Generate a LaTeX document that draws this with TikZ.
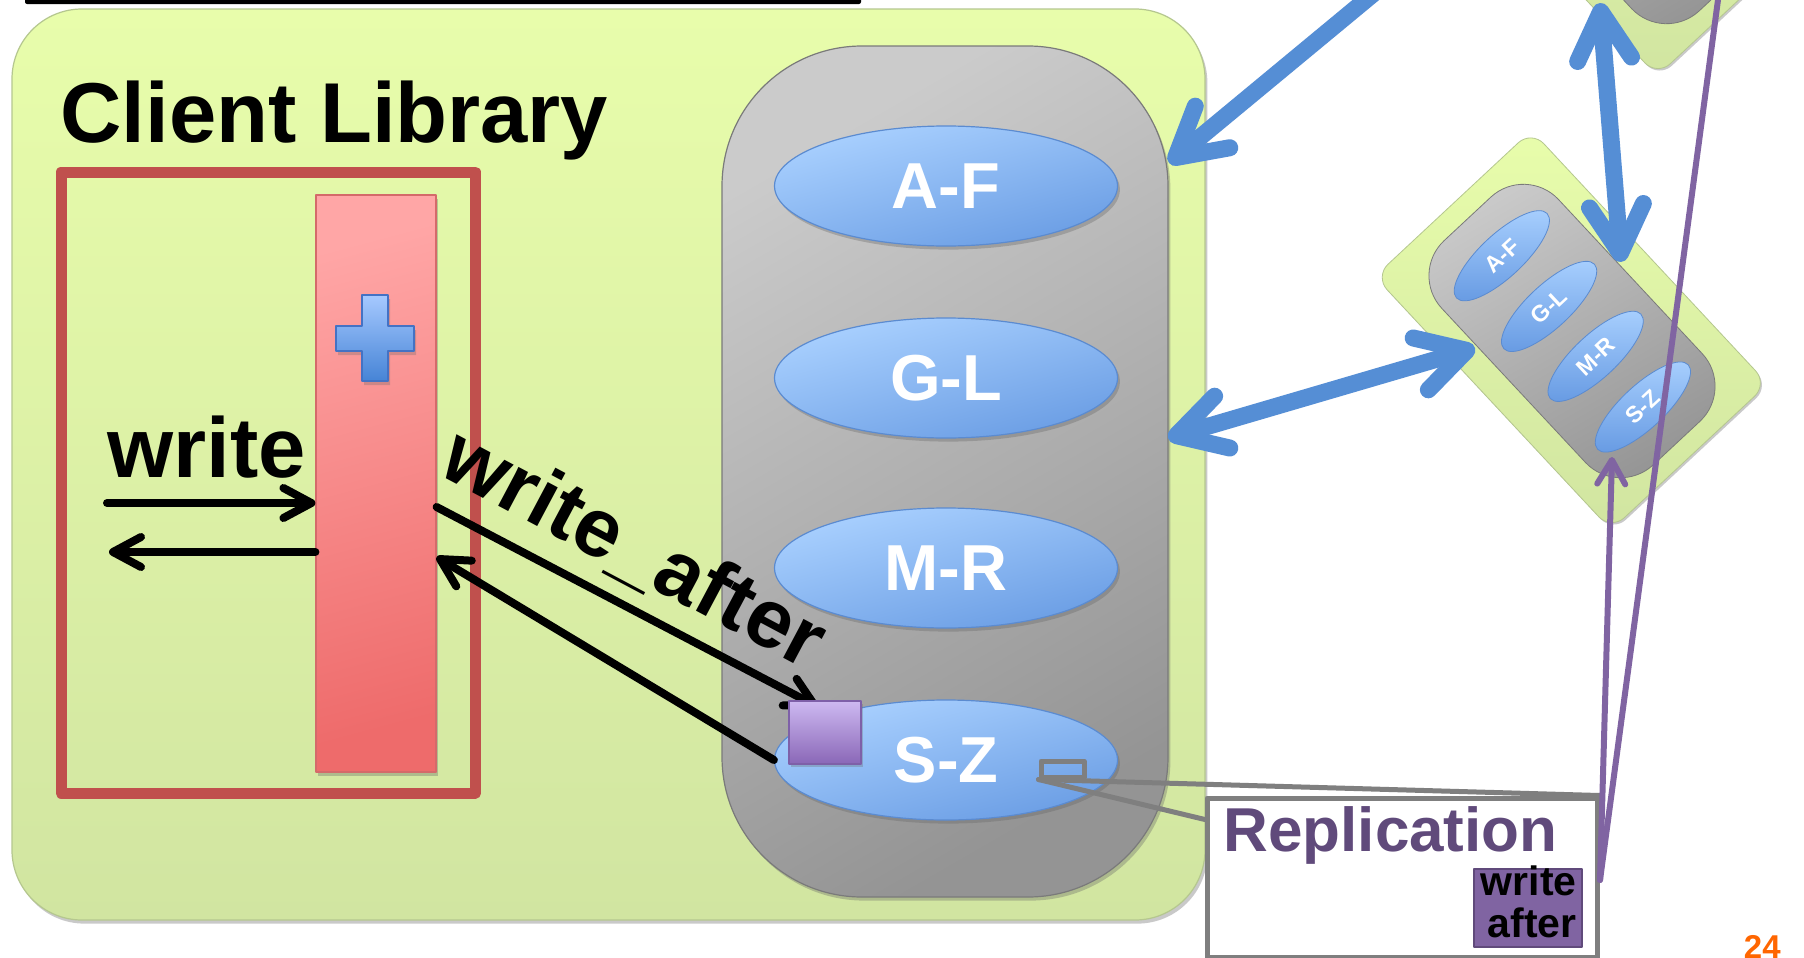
\documentclass[tikz,border=0pt]{standalone}
\usepackage{fontspec}
\setmainfont{Liberation Sans}
\usetikzlibrary{arrows.meta,shapes.geometric,shadows}
\definecolor{greentop}{HTML}{E8FDAB}
\definecolor{greenbot}{HTML}{D1E5A1}
\definecolor{greenedge}{HTML}{B5C78F}
\definecolor{pilltop}{HTML}{CBCBCB}
\definecolor{pillbot}{HTML}{949494}
\definecolor{pilledge}{HTML}{7A7A7A}
\definecolor{elltop}{HTML}{AAD1FF}
\definecolor{ellbot}{HTML}{6A9DE4}
\definecolor{elledge}{HTML}{5B8BD0}
\definecolor{pinktop}{HTML}{FFA6A6}
\definecolor{pinkbot}{HTML}{EE6B6B}
\definecolor{pinkedge}{HTML}{D46A6A}
\definecolor{redframe}{HTML}{C0504D}
\definecolor{plustop}{HTML}{A6C9FF}
\definecolor{plusbot}{HTML}{4684D6}
\definecolor{plusedge}{HTML}{4472C4}
\definecolor{sqtop}{HTML}{CDB9F1}
\definecolor{sqbot}{HTML}{8A67B7}
\definecolor{sqedge}{HTML}{7E60A8}
\definecolor{bluearr}{HTML}{558ED5}
\definecolor{purpline}{HTML}{8064A2}
\definecolor{reptext}{HTML}{604A7B}
\definecolor{calgray}{HTML}{7F7F7F}
\definecolor{pagenum}{HTML}{FF6600}
\newcommand{\replicabody}{%
  \draw[smgreen] (-102,-166) rectangle (102,164);
  \draw[smpill] (-76,-146) rectangle (76,146);
}
\newcommand{\replicanode}[1]{%
  \replicabody
  \node[ellsmall] (#1af) at (0,-98) {A-F};
  \node[ellsmall] (#1gl) at (0,-32) {G-L};
  \node[ellsmall] (#1mr) at (0,33) {M-R};
  \node[ellsmall] (#1sz) at (0,99) {S-Z};
}
\begin{document}
\begin{tikzpicture}[x=0.5pt,y=-0.5pt,line cap=round,line join=round,
  softshadow/.style={drop shadow={shadow xshift=1.2pt,shadow yshift=-1.8pt,opacity=0.35,fill=black!60}},
  greenbox/.style={draw=greenedge,line width=0.6pt,top color=greentop,bottom color=greenbot,
    rounded corners=35pt,inner sep=0pt,softshadow},
  pillbox/.style={draw=pilledge,line width=0.6pt,top color=pilltop,bottom color=pillbot,shading angle=30,
    rounded corners=70pt,inner sep=0pt,softshadow},
  ellbig/.style={ellipse,draw=elledge,line width=0.6pt,top color=elltop,bottom color=ellbot,shading angle=15,
    minimum width=171.5pt,minimum height=60pt,inner sep=0pt,text=white,
    font=\bfseries\fontsize{32.5}{32.5}\selectfont,softshadow},
  smgreen/.style={draw=greenedge,line width=0.4pt,top color=greentop,bottom color=greenbot,rounded corners=9pt,
    drop shadow={shadow xshift=0.8pt,shadow yshift=-1pt,opacity=0.35,fill=black!60}},
  smpill/.style={draw=pilledge,line width=0.4pt,top color=pilltop,bottom color=pillbot,shading angle=30,rounded corners=24pt},
  ellsmall/.style={ellipse,draw=elledge,line width=0.4pt,top color=elltop,bottom color=ellbot,
    minimum width=59pt,minimum height=20.5pt,inner sep=0pt,text=white,transform shape,
    font=\bfseries\fontsize{11}{11}\selectfont},
  bigtxt/.style={font=\bfseries\fontsize{42.5}{42.5}\selectfont,inner sep=0pt},
  blkline/.style={draw=black,line width=4pt},
  blktip/.style={-{Straight Barb[length=14pt,width=15pt,round]}},
  blueline/.style={draw=bluearr,line width=8.5pt},
  bluetips/.style={{Straight Barb[length=24pt,width=27pt,round]}-{Straight Barb[length=24pt,width=27pt,round]}},
  bluetip/.style={-{Straight Barb[length=24pt,width=27pt,round]}},
  purpleline/.style={draw=purpline,line width=3pt},
  calline/.style={draw=calgray,line width=2.5pt}]
\useasboundingbox (0,0) rectangle (1804,958);
\clip (0,0) rectangle (1804,958);
\fill[white] (0,0) rectangle (1804,958);
% top bar
\fill[black,rounded corners=1pt] (25,-5) rectangle (861,4);
% client library box
\node[greenbox,minimum width=596.5pt,minimum height=455.5pt] (client) at (608.5,464.5) {};
\node[bigtxt,anchor=base west] (title) at (60,142) {Client Library};
% red frame and bar
\node[draw=redframe,line width=5.5pt,minimum width=207.25pt,minimum height=310.5pt,inner sep=0pt] (frame) at (268.25,482.5) {};
\node[draw=pinkedge,line width=0.6pt,top color=pinktop,bottom color=pinkbot,shading angle=15,
  minimum width=60pt,minimum height=288.5pt,inner sep=0pt,softshadow] (bar) at (376,483.5) {};
\draw[plusedge,line width=1pt,top color=plustop,bottom color=plusbot,
  drop shadow={shadow xshift=1pt,shadow yshift=-2pt,opacity=0.3,fill=black!60}]
  (362,295) -- (388,295) -- (388,326) -- (414,326) -- (414,351) -- (388,351) -- (388,381)
  -- (362,381) -- (362,351) -- (336,351) -- (336,326) -- (362,326) -- cycle;
% server column
\node[pillbox,minimum width=223pt,minimum height=425.5pt] (pill) at (945,471.5) {};
\node[ellbig] (af) at (946,186) {A-F};
\node[ellbig] (gl) at (946,378) {G-L};
\node[ellbig] (mr) at (946,568) {M-R};
\node[ellbig] (sz) at (946,760) {S-Z};
% write arrows
\node[bigtxt,anchor=base west] (wlabel) at (107,477) {write};
\coordinate (wIn) at (107,503);
\coordinate (wOut) at (109,552);
\draw[blkline,blktip] (wIn) -- (wIn -| bar.west);
\draw[blkline,blktip] (wOut -| bar.west) -- (wOut);
% write_after arrows
\coordinate (waStart) at (435,507);
\coordinate (waTip) at (818,707);
\coordinate (retTip) at (436,557);
\draw[blkline,blktip] (waStart -| bar.east) -- (waTip);
\draw[blkline,blktip] (sz.west) -- (retTip -| bar.east);
\node[font=\bfseries\fontsize{41.5}{41.5}\selectfont,inner sep=0pt,anchor=base,rotate=-28] (walabel) at (622,572) {write\_after};
\node[draw=sqedge,line width=1pt,top color=sqtop,bottom color=sqbot,minimum width=36pt,minimum height=31.5pt,
  inner sep=0pt,drop shadow={shadow xshift=1pt,shadow yshift=-1.5pt,opacity=0.3,fill=black!60}] (psq) at (825,732.5) {};
% callout
\node[draw=calgray,line width=2.5pt,minimum width=21.5pt,minimum height=8pt,inner sep=0pt] (zoomrect) at (1062.5,769) {};
\coordinate (repIn) at (1207,820);
\draw[calline] (zoomrect.south west) -- (repIn);
\node[draw=calgray,fill=white,line width=2.5pt,minimum width=195pt,minimum height=79.5pt,inner sep=0pt] (repbox) at (1402,877.5) {};
\draw[calline] (zoomrect.south west) -- (repbox.north east);
\node[anchor=base west,inner sep=0pt,text=reptext,font=\bfseries\fontsize{31}{31}\selectfont] (reptitle) at (1223,851) {Replication};
\node[draw=reptext,line width=1pt,fill=purpline,minimum width=54pt,minimum height=39pt,inner sep=0pt] (wabox) at (1527.5,908) {};
\node[anchor=base east,inner sep=0pt,font=\bfseries\fontsize{20.5}{20.5}\selectfont] (wa1) at (1577,895) {write};
\node[anchor=base east,inner sep=0pt,font=\bfseries\fontsize{20.5}{20.5}\selectfont] (wa2) at (1577,937) {after};
% replica nodes
\begin{scope}[shift={(1572,331)},rotate=43,scale=1.05]
  \replicanode{r}
\end{scope}
\begin{scope}[shift={(1618,-123)},rotate=43,scale=1.05]
  \replicabody
\end{scope}
% blue arrows
\coordinate (b1far) at (1402,-30);
\coordinate (b1tip) at (1169,163);
\coordinate (b2left) at (1168,438);
\coordinate (b2right) at (1475,348);
\coordinate (b3bot) at (1621,262);
\coordinate (b3top) at (1600,3);
\draw[blueline,bluetip] (b1far) -- (b1tip);
\draw[blueline,bluetips] (b2left) -- (b2right);
\draw[blueline,bluetips] (b3bot) -- (b3top);
% purple lines
\coordinate (pstart) at (1600,880);
\coordinate (pfar) at (1722,-30);
\coordinate (ptip) at (1612,457);
\draw[purpleline] (pstart) -- (pfar);
\draw[purpleline,-{Straight Barb[length=12pt,width=14pt,round]}] (pstart) -- (ptip);
% page number
\node[anchor=base east,inner sep=0pt,text=pagenum,font=\bfseries\fontsize{16.5}{16.5}\selectfont] (pg) at (1781,958) {24};
\end{tikzpicture}
\end{document}
